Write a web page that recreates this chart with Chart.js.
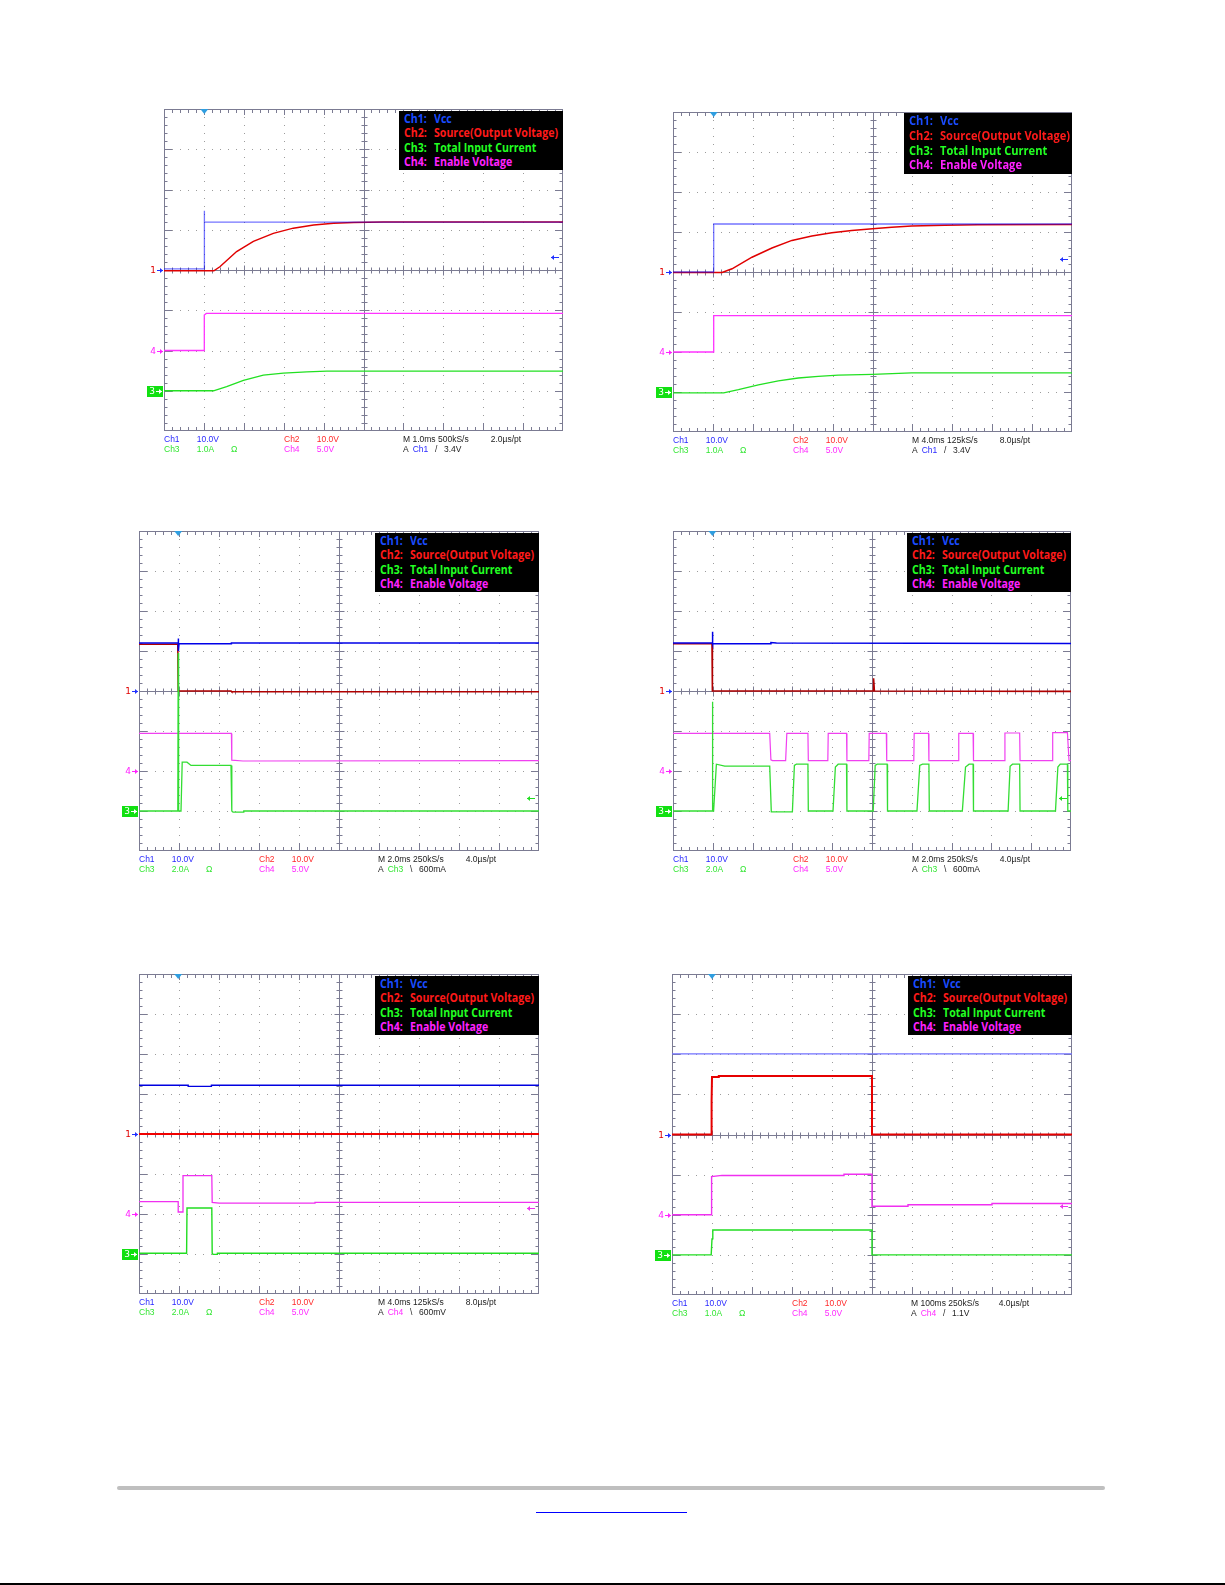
<!DOCTYPE html>
<html><head><meta charset="utf-8">
<script src="https://cdn.jsdelivr.net/npm/chart.js@4/dist/chart.umd.min.js"></script>
<style>
html,body{margin:0;padding:0;background:#fff;}
body{width:1225px;height:1585px;position:relative;overflow:hidden;}
canvas.sc{position:absolute;}
.lg{position:absolute;background:#000;}
.lg .row{position:absolute;left:0;right:0;height:14.4px;line-height:14.4px;white-space:nowrap;font:bold 11.5px "Open Sans";}
.lg span{position:absolute;top:0;transform-origin:0 50%;}
.ro{position:absolute;font:8.5px "Liberation Sans";line-height:10px;white-space:nowrap;}
.bar{position:absolute;}
</style></head><body>
<script>
// ---------- DATA (values in screen divisions: x 0..10, y -4..4) ----------
// Scope 1 (top-left)
const s1Ch1 = [[0,0.03],[1.01,0.03],[1.01,1.47],[1.015,1.19],[10,1.19]];
const s1Ch2 = [[0,-0.02],[1.25,-0.02],[1.40,0.08],[1.82,0.46],[2.24,0.71],[2.74,0.91],[3.24,1.04],[3.75,1.12],[4.25,1.16],[4.75,1.18],[5.5,1.19],[10,1.19]];
const s1Ch3 = [[0,-3.0],[1.24,-3.0],[1.57,-2.90],[1.99,-2.74],[2.49,-2.61],[2.99,-2.56],[3.58,-2.53],[4.08,-2.51],[10,-2.51]];
const s1Ch4 = [[0,-2.0],[1.01,-2.0],[1.01,-1.12],[1.06,-1.08],[10,-1.08]];
// Scope 2 (top-right)
const s2Ch1 = [[0,0],[1.02,0],[1.02,1.2],[10,1.2]];
const s2Ch2 = [[0,-0.01],[1.23,-0.01],[1.48,0.08],[1.98,0.37],[2.48,0.60],[2.98,0.79],[3.48,0.90],[3.98,0.98],[4.48,1.04],[5.0,1.08],[5.48,1.12],[5.98,1.15],[6.81,1.17],[7.64,1.18],[10,1.19]];
const s2Ch3 = [[0,-3.02],[1.27,-3.02],[1.64,-2.94],[2.14,-2.82],[2.64,-2.72],[3.14,-2.65],[3.64,-2.61],[4.14,-2.58],[5.0,-2.56],[5.98,-2.52],[10,-2.52]];
const s2Ch4 = [[0,-2.0],[1.02,-2.0],[1.02,-1.09],[10,-1.09]];
// Scope 3 (middle-left)
const s3Ch1 = [[0,1.2],[0.98,1.2],[0.98,1.31],[0.99,1.0],[1.0,1.18],[2.31,1.18],[2.31,1.2],[10,1.2]];
const s3Ch2 = [[0,1.17],[0.97,1.17],[0.98,0.0],[2.3,0.0],[2.32,-0.02],[10,-0.02]];
const s3Ch3 = [[0,-3.0],[0.97,-3.0],[0.98,0.95],[0.99,-3.0],[1.05,-3.0],[1.08,-1.78],[1.2,-1.78],[1.3,-1.86],[2.30,-1.86],[2.32,-3.0],[2.35,-3.03],[2.6,-3.03],[2.62,-3.0],[10,-3.0]];
const s3Ch4 = [[0,-1.06],[2.31,-1.06],[2.32,-1.73],[2.6,-1.75],[10,-1.74]];
// Scope 4 (middle-right)
const s4Ch1 = [[0,1.2],[0.99,1.2],[0.99,1.48],[1.0,1.18],[2.45,1.18],[2.46,1.21],[2.6,1.2],[10,1.19]];
const s4Ch2 = [[0,1.18],[0.98,1.18],[0.99,0.83],[0.99,0],[5.03,0],[5.04,0.32],[5.06,0],[10,-0.01]];
const s4Ch3 = [[0,-3],[0.98,-3],[0.99,-0.27],[1.0,-3],[1.02,-3],[1.09,-1.83],[1.3,-1.88],[2.43,-1.88],[2.47,-3.02],[3.0,-3.02],[3.05,-1.86],[3.1,-1.83],[3.39,-1.83],[3.40,-3.0],[4.02,-3.0],[4.08,-1.9],[4.15,-1.83],[4.36,-1.83],[4.37,-3.0],[5.03,-3.0],[5.08,-1.86],[5.13,-1.83],[5.38,-1.83],[5.39,-3.0],[6.13,-3.0],[6.2,-1.86],[6.27,-1.83],[6.43,-1.83],[6.44,-3.0],[7.27,-3.0],[7.35,-1.9],[7.44,-1.83],[7.54,-1.83],[7.55,-3.0],[8.42,-3.0],[8.47,-1.88],[8.53,-1.83],[8.71,-1.83],[8.72,-3.0],[9.61,-3.0],[9.67,-1.9],[9.73,-1.83],[9.91,-1.83],[9.92,-3.0],[10,-3.0]];
const s4Ch4 = [[0,-1.06],[2.43,-1.06],[2.46,-1.72],[2.5,-1.74],[2.83,-1.74],[2.86,-1.06],[3.39,-1.06],[3.40,-1.74],[3.89,-1.74],[3.90,-1.06],[4.36,-1.06],[4.37,-1.74],[4.92,-1.74],[4.93,-1.06],[5.36,-1.06],[5.37,-1.74],[6.05,-1.74],[6.06,-1.06],[6.42,-1.06],[6.43,-1.74],[7.17,-1.74],[7.18,-1.06],[7.54,-1.06],[7.55,-1.74],[8.33,-1.74],[8.34,-1.05],[8.71,-1.05],[8.72,-1.74],[9.53,-1.74],[9.54,-1.04],[9.91,-1.04],[9.95,-1.74],[10,-1.74]];
// Scope 5 (bottom-left)
const s5Ch1 = [[0,1.22],[1.23,1.22],[1.23,1.19],[1.81,1.19],[1.81,1.22],[10,1.22]];
const s5Ch2 = [[0,0],[10,0]];
const s5Ch3 = [[0,-2.98],[1.19,-2.98],[1.2,-1.85],[1.82,-1.85],[1.83,-2.98],[1.85,-3.01],[1.95,-3.01],[1.96,-2.98],[10,-2.98]];
const s5Ch4 = [[0,-1.69],[0.98,-1.69],[0.98,-1.95],[1.1,-1.95],[1.1,-1.04],[1.82,-1.04],[1.83,-1.71],[2.0,-1.73],[4.4,-1.73],[4.4,-1.71],[10,-1.71]];
// Scope 6 (bottom-right)
const s6Ch1 = [[0,2.01],[10,2.01]];
const s6Ch2 = [[0,0],[0.98,0],[0.99,0.84],[1.0,1.43],[1.17,1.43],[1.17,1.46],[5.0,1.46],[5.0,0],[10,0]];
const s6Ch3 = [[0,-3.0],[0.98,-3.0],[1.0,-2.6],[1.02,-2.38],[5.0,-2.38],[5.0,-3.0],[10,-3.0]];
const s6Ch4 = [[0,-2.0],[0.98,-2.0],[0.99,-1.05],[1.25,-1.02],[4.3,-1.02],[4.3,-0.99],[5.0,-0.99],[5.0,-1.79],[5.9,-1.79],[5.9,-1.75],[8.0,-1.75],[8.0,-1.72],[10,-1.72]];

// trigger position (x, div) and trigger level arrows (y, div)
const triggerPos = [1.01, 1.02, 0.98, 0.99, 0.98, 1.0];
const trigLevels = [0.33, 0.33, -2.68, -2.68, -1.86, -1.77];

// text labels
const legendLabels = ['Ch1:', 'Ch2:', 'Ch3:', 'Ch4:'];
const legendNames = ['Vcc', 'Source(Output Voltage)', 'Total Input Current', 'Enable Voltage'];
const timeBase = ['M 1.0ms 500kS/s','M 4.0ms 125kS/s','M 2.0ms 250kS/s','M 2.0ms 250kS/s','M 4.0ms 125kS/s','M 100ms 250kS/s'];
const perPoint = ['2.0\u00b5s/pt','8.0\u00b5s/pt','4.0\u00b5s/pt','4.0\u00b5s/pt','8.0\u00b5s/pt','4.0\u00b5s/pt'];
const ch3Scale = ['1.0A','1.0A','2.0A','2.0A','2.0A','1.0A'];
const trigSource = ['Ch1','Ch1','Ch3','Ch3','Ch4','Ch4'];
const trigSlope = ['/','/','\\','\\','\\','/'];
const trigLevelText = ['3.4V','3.4V','600mA','600mA','600mV','1.1V'];

// ---------- LAYOUT / STYLE ----------
const layout = [
  {L:164,T:109,W:399,H:322},
  {L:673,T:112,W:399,H:320},
  {L:139,T:531,W:400,H:320},
  {L:673,T:531,W:398,H:320},
  {L:139,T:974,W:400,H:320},
  {L:672,T:974,W:400,H:321}
];
const scopeTraces = [
  [s1Ch1,s1Ch2,s1Ch3,s1Ch4],[s2Ch1,s2Ch2,s2Ch3,s2Ch4],[s3Ch1,s3Ch2,s3Ch3,s3Ch4],
  [s4Ch1,s4Ch2,s4Ch3,s4Ch4],[s5Ch1,s5Ch2,s5Ch3,s5Ch4],[s6Ch1,s6Ch2,s6Ch3,s6Ch4]
];
const ch1Style = [['rgba(0,0,255,0.55)',1.3],['rgba(0,0,255,0.55)',1.3],['#0000e8',1.5],['#0000e8',1.5],['#0000e0',1.4],['#7070ff',1.1]];
const ch2Style = [['#e00000',1.5],['#e00000',1.5],['#b00000',1.6],['#b00000',1.6],['#f00000',1.8],['#e60000',2.0]];
const ch3Style = [['#22e022',1.3],['#22e022',1.3],['#33dd33',1.3],['#33dd33',1.3],['#22dd22',1.4],['#22dd22',1.4]];
const ch4Style = [['#ff33ff',1.3],['#ff33ff',1.3],['#f040f0',1.2],['#f040f0',1.2],['#f030f0',1.3],['#f030f0',1.4]];
const arrowColor = ['#2030ff','#2030ff','#22dd22','#22dd22','#ee33ee','#ee33ee'];
const C = {blue:'#2a2aff', red:'#ff2a2a', green:'#33e633', mag:'#ff2aff', black:'#222'};
const PL = 30, PT = 8, PR = 6, PB = 4;

const graticule = {
  id: 'graticule',
  beforeDatasetsDraw(chart) {
    const {ctx, chartArea: a, scales: {x, y}} = chart;
    ctx.save();
    const X = v => Math.round(x.getPixelForValue(v));
    const Y = v => Math.round(y.getPixelForValue(v));
    // dotted grid
    ctx.fillStyle = '#9c9c9c';
    for (let i = 1; i < 10; i++) {
      if (i === 5) continue;
      const gx = X(i);
      for (let j = 1; j < 40; j++) ctx.fillRect(gx, Y(-4 + j * 0.2), 1, 1);
    }
    for (let k = -3; k <= 3; k++) {
      if (k === 0) continue;
      const gy = Y(k);
      for (let j = 1; j < 50; j++) ctx.fillRect(X(j * 0.2), gy, 1, 1);
    }
    ctx.strokeStyle = '#7b7b92';
    ctx.lineWidth = 1;
    ctx.beginPath();
    const cx = X(5) + 0.5, cy = Y(0) + 0.5;
    ctx.moveTo(cx, a.top); ctx.lineTo(cx, a.bottom);
    ctx.moveTo(a.left, cy); ctx.lineTo(a.right, cy);
    // ticks on centre axes and edges
    for (let j = 1; j < 50; j++) {
      const v = j * 0.2, tx = X(v) + 0.5, major = (j % 5 === 0);
      const c = major ? 5 : 3;
      ctx.moveTo(tx, cy - c); ctx.lineTo(tx, cy + c);
      ctx.moveTo(tx, a.top); ctx.lineTo(tx, a.top + (major ? 6 : 4));
      ctx.moveTo(tx, a.bottom); ctx.lineTo(tx, a.bottom - (major ? 8 : 4));
    }
    for (let j = 1; j < 40; j++) {
      const v = -4 + j * 0.2, ty = Y(v) + 0.5, major = (j % 5 === 0);
      const c = major ? 5 : 3;
      ctx.moveTo(cx - c, ty); ctx.lineTo(cx + c, ty);
      ctx.moveTo(a.left, ty); ctx.lineTo(a.left + (major ? 8 : 3.5), ty);
      ctx.moveTo(a.right, ty); ctx.lineTo(a.right - (major ? 8 : 3.5), ty);
    }
    ctx.stroke();
    ctx.strokeRect(a.left + 0.5, a.top + 0.5, a.right - a.left - 1, a.bottom - a.top - 1);
    ctx.restore();
  }
};

function arrow(ctx, x1, x2, yy, color) {
  ctx.strokeStyle = color; ctx.fillStyle = color; ctx.lineWidth = 1;
  ctx.beginPath(); ctx.moveTo(x1, yy + 0.5); ctx.lineTo(x2, yy + 0.5); ctx.stroke();
  const dir = x2 > x1 ? 1 : -1;
  ctx.beginPath(); ctx.moveTo(x2, yy + 0.5); ctx.lineTo(x2 - dir * 3, yy - 2); ctx.lineTo(x2 - dir * 3, yy + 3); ctx.closePath(); ctx.fill();
}

const markers = {
  id: 'markers',
  afterDatasetsDraw(chart, args, opts) {
    const {ctx, chartArea: a, scales: {x, y}} = chart;
    const i = opts.idx;
    ctx.save();
    // trigger position marker
    const tx = x.getPixelForValue(triggerPos[i]);
    ctx.fillStyle = '#2f9ee0';
    ctx.beginPath(); ctx.moveTo(tx - 4, a.top); ctx.lineTo(tx + 4, a.top); ctx.lineTo(tx, a.top + 5); ctx.closePath(); ctx.fill();
    // ground markers
    ctx.font = '9px "DejaVu Sans"';
    ctx.textAlign = 'right'; ctx.textBaseline = 'middle';
    const y0 = Math.round(y.getPixelForValue(0));
    ctx.fillStyle = '#e00000'; ctx.fillText('1', a.left - 8, y0 + 1);
    arrow(ctx, a.left - 7, a.left - 1, y0, '#2030ff');
    const y4 = Math.round(y.getPixelForValue(-2));
    ctx.fillStyle = '#ff22ff'; ctx.fillText('4', a.left - 8, y4 + 1);
    arrow(ctx, a.left - 7, a.left - 1, y4, '#ff22ff');
    const y3 = Math.round(y.getPixelForValue(-3));
    ctx.fillStyle = '#11e011'; ctx.fillRect(a.left - 17, y3 - 5, 16, 11);
    ctx.fillStyle = '#fff'; ctx.textAlign = 'center'; ctx.fillText('3', a.left - 12, y3 + 1);
    arrow(ctx, a.left - 8, a.left - 2, y3, '#fff');
    // trigger level arrow on the right
    const yl = Math.round(y.getPixelForValue(trigLevels[i]));
    arrow(ctx, a.right - 4, a.right - 12, yl, arrowColor[i]);
    ctx.restore();
  }
};

const measCtx = document.createElement('canvas').getContext('2d');

function addText(x, yy, text, color) {
  const d = document.createElement('div');
  d.className = 'ro';
  d.style.left = x + 'px'; d.style.top = yy + 'px'; d.style.color = color;
  d.textContent = text;
  document.body.appendChild(d);
}

layout.forEach((b, i) => {
  const cv = document.createElement('canvas');
  cv.className = 'sc';
  const w = b.W + PL + PR, h = b.H + PT + PB;
  cv.width = w; cv.height = h;
  cv.style.left = (b.L - PL) + 'px'; cv.style.top = (b.T - PT) + 'px';
  cv.style.width = w + 'px'; cv.style.height = h + 'px';
  document.body.appendChild(cv);
  const tr = scopeTraces[i];
  const mk = (pts, st) => ({data: pts.map(p => ({x: p[0], y: p[1]})), borderColor: st[0], borderWidth: st[1], pointRadius: 0, fill: false, tension: 0});
  new Chart(cv, {
    type: 'line',
    data: {datasets: [mk(tr[0], ch1Style[i]), mk(tr[2], ch3Style[i]), mk(tr[3], ch4Style[i]), mk(tr[1], ch2Style[i])]},
    options: {
      responsive: false, animation: false, devicePixelRatio: 1,
      layout: {padding: {left: PL, top: PT, right: PR, bottom: PB}},
      plugins: {legend: {display: false}, tooltip: {enabled: false}, markers: {idx: i}},
      scales: {x: {type: 'linear', min: 0, max: 10, display: false}, y: {type: 'linear', min: -4, max: 4, display: false}},
      elements: {point: {radius: 0}, line: {tension: 0}}
    },
    plugins: [graticule, markers]
  });

  // legend box
  const big = (i === 1);
  const lw = big ? 168 : 164, lh = big ? 61 : 59;
  const lg = document.createElement('div');
  lg.className = 'lg';
  lg.style.left = (b.L + b.W - lw) + 'px'; lg.style.top = (b.T + (big ? 1 : 2)) + 'px';
  lg.style.width = lw + 'px'; lg.style.height = lh + 'px';
  const fs = big ? 12 : 11.5;
  measCtx.font = 'bold ' + fs + 'px "Open Sans"';
  const sc = (big ? 130 : 124) / measCtx.measureText(legendNames[1]).width;
  const colors = ['#1a4cff', '#ff1a1a', '#22ff22', '#ff22ff'];
  const step = big ? 14.8 : 14.4;
  legendLabels.forEach((lab, k) => {
    const r = document.createElement('div');
    r.className = 'row';
    r.style.top = (1 + k * step) + 'px'; r.style.height = step + 'px'; r.style.lineHeight = step + 'px';
    r.style.fontSize = fs + 'px'; r.style.color = colors[k];
    const s1 = document.createElement('span'); s1.textContent = lab; s1.style.left = '5px'; s1.style.transform = 'scaleX(' + sc + ')';
    const s2 = document.createElement('span'); s2.textContent = legendNames[k]; s2.style.left = (big ? 36 : 35) + 'px'; s2.style.transform = 'scaleX(' + sc + ')';
    r.appendChild(s1); r.appendChild(s2);
    lg.appendChild(r);
  });
  document.body.appendChild(lg);

  // readouts
  const bot = b.T + b.H, r1 = bot + 2.6, r2 = bot + 12.6, L = b.L;
  addText(L, r1, 'Ch1', C.blue); addText(L + 32.7, r1, '10.0V', C.blue);
  addText(L + 120, r1, 'Ch2', C.red); addText(L + 152.7, r1, '10.0V', C.red);
  addText(L + 239, r1, timeBase[i], C.black); addText(L + 326.7, r1, perPoint[i], C.black);
  addText(L, r2, 'Ch3', C.green); addText(L + 32.7, r2, ch3Scale[i], C.green); addText(L + 67, r2, '\u03a9', C.green);
  addText(L + 120, r2, 'Ch4', C.mag); addText(L + 152.7, r2, '5.0V', C.mag);
  addText(L + 239, r2, 'A', C.black);
  const srcCol = trigSource[i] === 'Ch1' ? C.blue : (trigSource[i] === 'Ch3' ? C.green : C.mag);
  addText(L + 248.7, r2, trigSource[i], srcCol);
  addText(L + 271, r2, trigSlope[i], C.black);
  addText(L + 280, r2, trigLevelText[i], C.black);
});

// footer decorations
function bar(l, t, w, h, col, rad) {
  const d = document.createElement('div'); d.className = 'bar';
  d.style.left = l + 'px'; d.style.top = t + 'px'; d.style.width = w + 'px'; d.style.height = h + 'px';
  d.style.background = col; if (rad) d.style.borderRadius = rad + 'px';
  document.body.appendChild(d);
}
bar(117, 1486, 988, 4, '#bfbfbf', 2);
bar(536, 1511.5, 151, 1.3, '#0000ff');
bar(0, 1583, 1225, 2, '#000');
</script></body></html>
